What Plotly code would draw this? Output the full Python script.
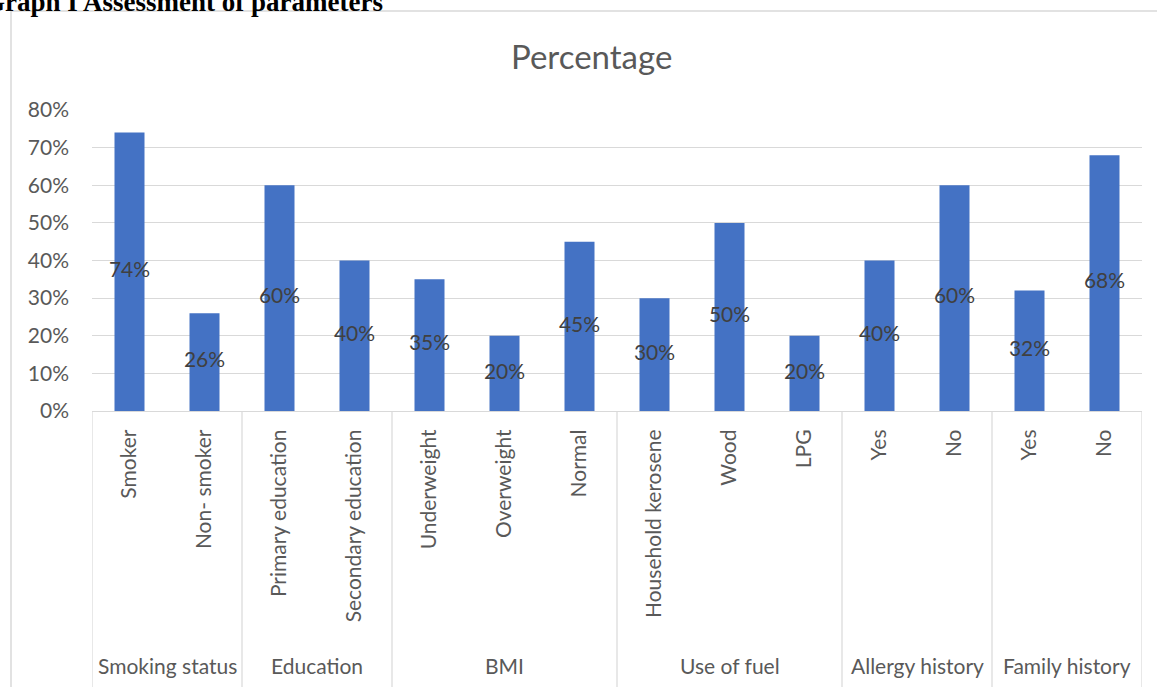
import plotly.graph_objects as go

categories = ["Smoker", "Non- smoker", "Primary education", "Secondary education",
              "Underweight", "Overweight", "Normal", "Household kerosene", "Wood", "LPG",
              "Yes", "No", "Yes", "No"]
groups = ["Smoking status", "Smoking status", "Education", "Education",
          "BMI", "BMI", "BMI", "Use of fuel", "Use of fuel", "Use of fuel",
          "Allergy history", "Allergy history", "Family history", "Family history"]
values = [0.74, 0.26, 0.60, 0.40, 0.35, 0.20, 0.45, 0.30, 0.50, 0.20, 0.40, 0.60, 0.32, 0.68]
labels = ["74%", "26%", "60%", "40%", "35%", "20%", "45%", "30%", "50%", "20%", "40%", "60%", "32%", "68%"]

W, H = 1157, 687
L, R, T, B = 92, 15, 110, 276
PW, PH = W - L - R, H - T - B

def px(x):
    return (x - L) / PW

def py(y):
    return (H - B - y) / PH

FONT = "Lato"
GREY = "#595959"
LINE = "#d9d9d9"

idx = list(range(len(categories)))

fig = go.Figure()
fig.add_trace(go.Bar(x=idx, y=values, width=0.4, marker=dict(color="#4472C4", line=dict(width=0)),
                     hoverinfo="skip"))
fig.add_trace(go.Scatter(x=idx, y=[v / 2 for v in values], mode="text", text=labels,
                         textposition="middle center",
                         textfont=dict(family=FONT, size=21, color="#404040"), hoverinfo="skip"))

shapes = []
annotations = []
starts = [0]
for i in range(1, len(groups)):
    if groups[i] != groups[i - 1]:
        starts.append(i)
ends = starts[1:] + [len(groups)]
for s in starts + [len(groups)]:
    shapes.append(dict(type="line", xref="x", yref="paper", x0=s - 0.5, x1=s - 0.5,
                       y0=0, y1=py(700), line=dict(color=LINE, width=1.2)))
for s, e in zip(starts, ends):
    annotations.append(dict(x=(s + e - 1) / 2, xref="x", y=py(665), yref="paper",
                            text=groups[s], showarrow=False, xanchor="center", yanchor="middle",
                            font=dict(family=FONT, size=21, color=GREY)))

shapes.append(dict(type="rect", xref="paper", yref="paper", x0=px(11), x1=px(1170),
                   y0=py(700), y1=py(11), line=dict(color=LINE, width=1.5), fillcolor="rgba(0,0,0,0)",
                   layer="below"))

annotations.append(dict(x=px(591), y=py(56), xref="paper", yref="paper", text="Percentage",
                        showarrow=False, xanchor="center", yanchor="middle",
                        font=dict(family=FONT, size=33, color=GREY)))
annotations.append(dict(x=px(-18), y=py(19), xref="paper", yref="paper",
                        text="<b>Graph I Assessment of parameters</b>",
                        showarrow=False, xanchor="left", yanchor="bottom",
                        font=dict(family="Liberation Serif", size=27, color="#000000")))

fig.update_layout(
    width=W, height=H,
    margin=dict(l=L, r=R, t=T, b=B, pad=0),
    paper_bgcolor="white", plot_bgcolor="white",
    showlegend=False,
    shapes=shapes, annotations=annotations,
)
fig.update_xaxes(range=[-0.5, len(categories) - 0.5], tickmode="array", tickvals=idx,
                 ticktext=categories, tickangle=-90, showgrid=False, zeroline=False,
                 showline=True, linecolor=LINE, linewidth=1.2, ticks="",
                 ticklabelstandoff=9,
                 tickfont=dict(family=FONT, size=21, color=GREY))
fig.update_yaxes(range=[0, 0.8], dtick=0.1, tickformat=".0%", showgrid=True, gridcolor=LINE,
                 gridwidth=1.2, zeroline=False, showline=False, ticks="",
                 ticklabelstandoff=22,
                 tickfont=dict(family=FONT, size=21, color=GREY))

fig.write_html("out.html")
